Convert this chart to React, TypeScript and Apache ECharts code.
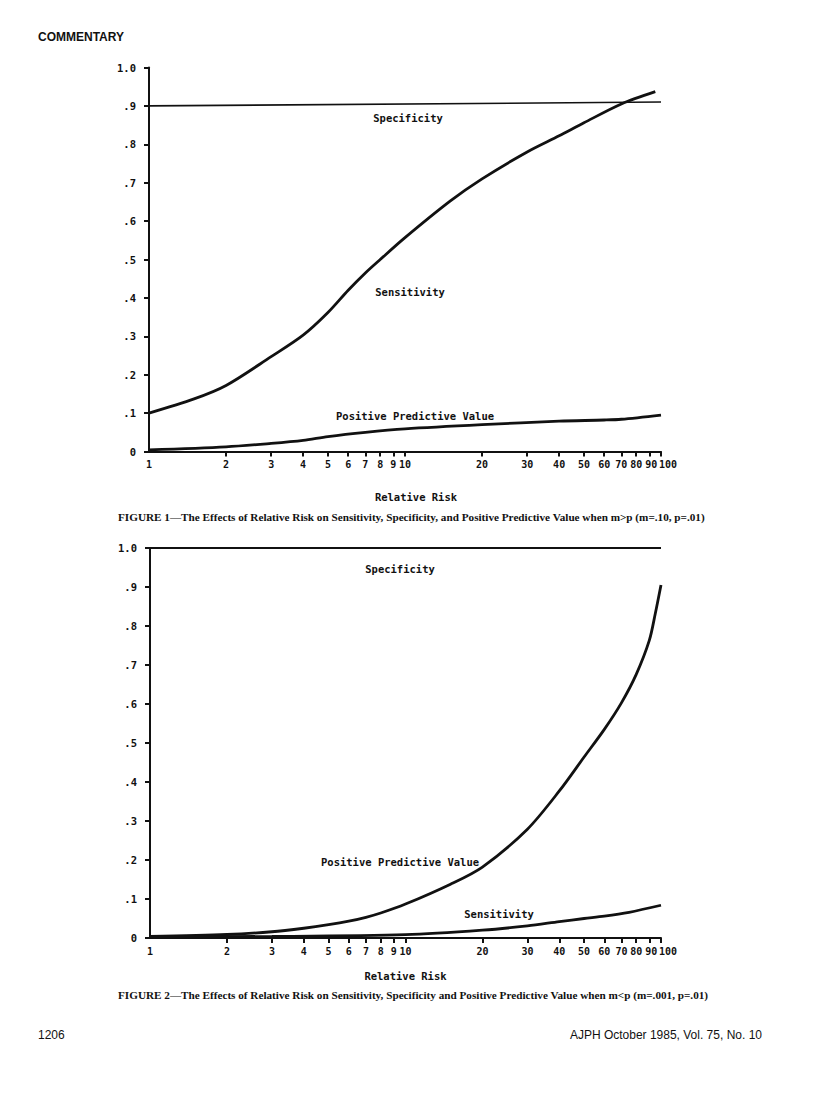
import React, { useEffect, useRef } from "react";
import * as echarts from "echarts";

// Shared axis ticks
const xTicks = [1, 2, 3, 4, 5, 6, 7, 8, 9, 10, 20, 30, 40, 50, 60, 70, 80, 90, 100];
const yTickLabels = ["0", ".1", ".2", ".3", ".4", ".5", ".6", ".7", ".8", ".9", "1.0"];

// Figure 1 (m=.10, p=.01)
const fig1SpecX = [1, 100];
const fig1SpecY = [0.9, 0.91];
const fig1SensX = [1, 1.5, 2, 3, 4, 5, 6, 7, 8, 10, 15, 20, 30, 40, 50, 70, 95];
const fig1SensY = [0.1, 0.137, 0.172, 0.247, 0.303, 0.362, 0.42, 0.465, 0.5, 0.557, 0.652, 0.71, 0.78, 0.822, 0.856, 0.905, 0.937];
const fig1PpvX = [1, 2, 3, 4, 5, 7, 10, 20, 40, 60, 70, 100];
const fig1PpvY = [0.004, 0.012, 0.021, 0.029, 0.039, 0.05, 0.059, 0.07, 0.079, 0.082, 0.084, 0.095];

// Figure 2 (m=.001, p=.01)
const fig2SpecX = [1, 100];
const fig2SpecY = [1.0, 1.0];
const fig2PpvX = [1, 2, 3, 4, 5, 6, 7, 8, 10, 15, 20, 30, 40, 50, 60, 70, 80, 90, 95, 100];
const fig2PpvY = [0.004, 0.009, 0.016, 0.025, 0.034, 0.043, 0.053, 0.064, 0.087, 0.138, 0.182, 0.279, 0.377, 0.464, 0.535, 0.603, 0.676, 0.763, 0.832, 0.905];
const fig2SensX = [1, 3, 10, 20, 30, 40, 50, 60, 75, 100];
const fig2SensY = [0.003, 0.004, 0.0085, 0.02, 0.031, 0.042, 0.05, 0.056, 0.066, 0.084];

const caption1 = "FIGURE 1\u2014The Effects of Relative Risk on Sensitivity, Specificity, and Positive Predictive Value when m>p (m=.10, p=.01)";
const caption2 = "FIGURE 2\u2014The Effects of Relative Risk on Sensitivity, Specificity and Positive Predictive Value when m<p (m=.001, p=.01)";

const MONO = '"DejaVu Sans Mono", monospace';
const INK = "#111";

function pairs(xs: number[], ys: number[]) {
  return xs.map((x, i) => [Math.log10(x), ys[i]]);
}

export default function App() {
  const ref = useRef<HTMLDivElement>(null);
  useEffect(() => {
    if (!ref.current) return;
    const chart = echarts.init(ref.current, null, { renderer: "svg" });
    const tickVals = xTicks.map((v) => Math.log10(v));
    const xAxis = [0, 1].map((i) => ({
      type: "value",
      gridIndex: i,
      min: 0,
      max: 2,
      axisLine: { show: true, onZero: false, lineStyle: { color: INK, width: 2 } },
      axisTick: { show: true, customValues: tickVals.slice(1), length: 5, lineStyle: { color: INK, width: 2 } },
      axisLabel: {
        customValues: tickVals,
        margin: 8,
        fontFamily: MONO,
        fontWeight: "bold",
        fontSize: 10,
        color: INK,
        formatter: (v: number) => {
          const n = Math.round(Math.pow(10, v));
          if (n === 100) return "{p100|100}";
          if (n === 90) return "{p90|90}";
          return String(n);
        },
        rich: {
          p100: { padding: [0, 0, 0, 14], fontFamily: MONO, fontWeight: "bold", fontSize: 10, color: INK },
          p90: { padding: [0, 0, 0, 4], fontFamily: MONO, fontWeight: "bold", fontSize: 10, color: INK },
        },
      },
      splitLine: { show: false },
      name: "Relative Risk",
      nameLocation: "middle",
      nameGap: i === 0 ? 40 : 32,
      nameTextStyle: {
        fontFamily: MONO,
        fontWeight: "bold",
        fontSize: 10.5,
        color: INK,
        padding: i === 0 ? [0, 0, 0, 22] : 0,
      },
    }));
    const yAxis = [0, 1].map((i) => ({
      type: "value",
      gridIndex: i,
      min: 0,
      max: 1,
      interval: 0.1,
      axisLine: { show: true, lineStyle: { color: INK, width: 2 } },
      axisTick: { show: true, length: 5, lineStyle: { color: INK, width: 2 } },
      axisLabel: {
        margin: 13,
        fontFamily: MONO,
        fontWeight: "bold",
        fontSize: 10.5,
        color: INK,
        formatter: (v: number) => yTickLabels[Math.round(v * 10)],
      },
      splitLine: { show: false },
    }));
    const line = (xi: number, xs: number[], ys: number[], width: number) => ({
      type: "line",
      xAxisIndex: xi,
      yAxisIndex: xi,
      data: pairs(xs, ys),
      smooth: 0.3,
      symbol: "none",
      clip: false,
      lineStyle: { color: INK, width },
    });
    const text = (x: number, y: number, t: string, font: string, align = "center") => ({
      type: "text",
      x,
      y,
      style: { text: t, font, fill: INK, align, verticalAlign: "middle" },
    });
    const lab = `bold 10.5px ${MONO}`;
    const capFont = 'bold 11.2px "Liberation Serif", "Times New Roman", serif';
    chart.setOption({
      animation: false,
      grid: [
        { left: 149, top: 67.5, width: 512, height: 384 },
        { left: 150, top: 548, width: 511, height: 390 },
      ],
      xAxis,
      yAxis,
      series: [
        line(0, fig1SpecX, fig1SpecY, 1.6),
        line(0, fig1SensX, fig1SensY, 2.8),
        line(0, fig1PpvX, fig1PpvY, 2.8),
        line(1, fig2SpecX, fig2SpecY, 2),
        line(1, fig2PpvX, fig2PpvY, 2.8),
        line(1, fig2SensX, fig2SensY, 2.8),
      ],
      graphic: [
        text(38, 37, "COMMENTARY", 'bold 12px "Liberation Sans", Arial, sans-serif', "left"),
        text(408, 118, "Specificity", lab),
        text(410, 292, "Sensitivity", lab),
        text(415, 416, "Positive Predictive Value", lab),
        text(400, 569, "Specificity", lab),
        text(400, 862, "Positive Predictive Value", lab),
        text(499, 914, "Sensitivity", lab),
        text(118, 517, caption1, capFont, "left"),
        text(118, 995, caption2, capFont, "left"),
        text(38, 1035, "1206", '12px "Liberation Sans", Arial, sans-serif', "left"),
        text(762, 1035, "AJPH October 1985, Vol. 75, No. 10", '12px "Liberation Sans", Arial, sans-serif', "right"),
      ],
    });
    return () => chart.dispose();
  }, []);
  return <div ref={ref} style={{ position: "absolute", left: 0, top: 0, width: 816, height: 1105 }} />;
}
